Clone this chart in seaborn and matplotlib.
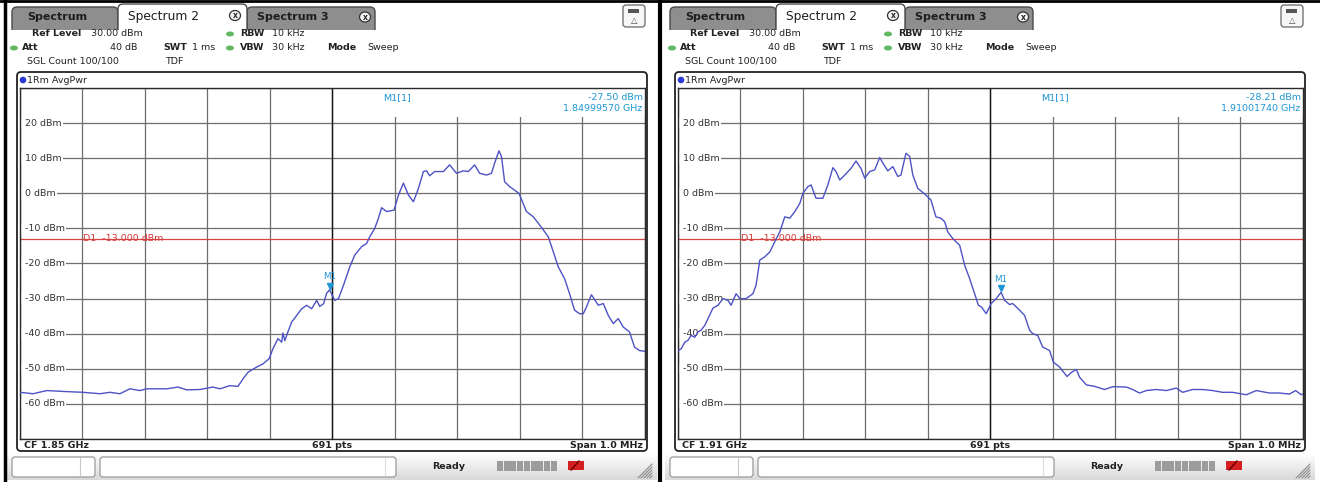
import matplotlib
matplotlib.use('Agg')
import numpy as np
import matplotlib.pyplot as plt
from matplotlib.colors import LinearSegmentedColormap
from matplotlib.patches import Rectangle, FancyBboxPatch, Circle, Ellipse
import seaborn as sns

# trace points: (offset from CF in kHz, level in dBm)
left_trace = [(-500, -56.7), (-479, -57.1), (-457, -56.2), (-425, -56.5), (-399, -56.7), (-372, -57.1),
              (-356, -56.7), (-340, -57.1), (-324, -55.7), (-308, -56.2), (-297, -55.7), (-265, -55.7),
              (-247, -55.2), (-233, -56.0), (-212, -55.9), (-191, -55.2), (-180, -55.7), (-164, -54.8),
              (-151, -55.0), (-143, -52.9), (-135, -51.0), (-121, -49.5), (-111, -48.6), (-101, -47.1),
              (-95, -44.3), (-87, -41.4), (-81, -42.4), (-79, -39.8), (-76, -42.0), (-71, -39.5),
              (-65, -36.7), (-57, -34.8), (-49, -32.9), (-41, -31.9), (-33, -32.9), (-25, -30.5),
              (-20, -32.2), (-14, -31.5), (-9, -28.5), (-4.3, -27.5), (4, -30.5), (10, -30.0),
              (18, -26.2), (28, -21.0), (36, -17.6), (47, -15.2), (55, -14.3), (60, -12.4), (68, -10.0),
              (74, -7.1), (79, -4.1), (87, -5.2), (99, -4.8), (106, -0.5), (114, 2.9), (122, -0.5),
              (130, -2.4), (138, 1.4), (146, 6.2), (151, 6.4), (156, 5.0), (164, 6.2), (178, 6.2),
              (188, 8.1), (199, 5.7), (210, 6.4), (218, 6.2), (228, 8.1), (236, 5.7), (247, 5.2),
              (255, 5.7), (260, 8.6), (267, 12.1), (271, 10.5), (276, 3.3), (284, 1.9), (299, 0.0),
              (311, -5.2), (322, -6.7), (332, -9.0), (346, -12.4), (354, -16.7), (362, -21.0),
              (372, -24.3), (380, -28.6), (388, -33.3), (396, -34.3), (402, -34.3), (407, -32.4),
              (415, -28.9), (426, -31.9), (434, -31.4), (442, -34.8), (450, -37.1), (458, -35.7),
              (466, -38.1), (476, -39.5), (484, -43.8), (492, -44.8), (500, -45.0)]

right_trace = [(-500, -44.8), (-495, -44.3), (-489, -42.4), (-484, -41.9), (-479, -40.5), (-473, -41.0),
               (-468, -39.5), (-463, -39.0), (-457, -37.6), (-452, -35.7), (-444, -32.7), (-436, -31.9),
               (-428, -30.0), (-420, -30.5), (-415, -31.9), (-407, -28.6), (-401, -30.0), (-391, -30.0),
               (-380, -28.6), (-375, -26.2), (-369, -19.0), (-361, -18.1), (-353, -16.7), (-345, -13.8),
               (-337, -11.0), (-329, -6.7), (-321, -7.1), (-313, -5.2), (-305, -2.9), (-300, 0.0),
               (-292, 1.9), (-287, 2.4), (-279, -1.4), (-268, -1.4), (-260, 2.4), (-252, 7.3),
               (-247, 6.2), (-241, 3.8), (-233, 5.2), (-223, 7.1), (-215, 9.2), (-207, 7.1),
               (-201, 4.3), (-193, 6.2), (-185, 6.7), (-177, 10.2), (-172, 8.6), (-164, 6.4),
               (-156, 7.6), (-148, 4.8), (-143, 5.2), (-135, 11.4), (-129, 10.5), (-124, 5.2),
               (-116, 1.4), (-103, -0.5), (-95, -1.9), (-87, -6.7), (-79, -7.1), (-73, -8.1),
               (-68, -11.0), (-60, -12.9), (-49, -14.8), (-41, -20.5), (-33, -24.3), (-25, -28.6),
               (-19, -31.9), (-14, -32.4), (-6.5, -34.3), (1.5, -31.4), (9.5, -30.0), (17.4, -28.2),
               (23, -30.5), (31, -31.7), (36, -31.4), (47, -33.3), (55, -34.8), (63, -39.0),
               (68, -40.0), (76, -40.5), (84, -43.8), (95, -44.8), (101, -48.1), (111, -49.5),
               (123, -52.2), (130, -51.0), (138, -50.2), (143, -52.4), (154, -54.6), (167, -55.0),
               (183, -55.9), (196, -55.1), (218, -55.2), (228, -55.9), (239, -56.9), (250, -56.2),
               (266, -55.9), (282, -56.2), (298, -55.5), (308, -56.7), (324, -55.9), (340, -55.9),
               (356, -56.2), (372, -56.7), (388, -56.7), (410, -57.4), (426, -56.2), (447, -56.9),
               (463, -56.9), (479, -57.2), (489, -56.2), (498, -57.4), (500, -57.2)]

cf_labels = ['CF 1.85 GHz', 'CF 1.91 GHz']
marker_khz = [-4.3, 17.4]
marker_dbm = [-27.50, -28.21]
marker_freq = ['1.84999570 GHz', '1.91001740 GHz']
level_ticks = [20, 10, 0, -10, -20, -30, -40, -50, -60]
d1_level = -13.0
tab_names = ['Spectrum', 'Spectrum 2', 'Spectrum 3']

sns.set_style('white')
plt.rcParams['font.family'] = ['DejaVu Sans']

W, H = 1320, 482
fig = plt.figure(figsize=(W / 100, H / 100), dpi=100)
bg = fig.add_axes([0, 0, 1, 1])
bg.set_xlim(0, W)
bg.set_ylim(H, 0)
bg.axis('off')

TRACE = '#4d52c4'
MK = '#1f96d4'
FS = 6.8
status_cmap = LinearSegmentedColormap.from_list('sb', ['#ffffff', '#d9d9d9'])


def rbox(x0, y0, x1, y1, fc, ec, lw=1.0, r=4, z=1):
    bg.add_patch(FancyBboxPatch((x0, y0), x1 - x0, y1 - y0,
                                boxstyle='round,pad=0,rounding_size=%s' % r,
                                fc=fc, ec=ec, lw=lw, zorder=z))


def draw_panel(ox, pts, cf, mk_x, mk_y, mk_f):
    X = lambda v: ox + v
    # tabs
    for x0, x1 in [(12, 118), (247, 375)]:
        rbox(X(x0), 7, X(x1), 36, '#8e8e8e', '#4a4a4a', 1.0, 5)
    rbox(X(118), 4, X(247), 36, 'white', '#4a4a4a', 1.0, 5, z=2)
    bg.add_patch(Rectangle((X(7), 29.5), 650, 40, fc='white', ec='none', zorder=3))
    bg.text(X(27), 17.5, tab_names[0], fontsize=8, weight='bold', color='#1e1e1e', va='center', zorder=4)
    bg.text(X(128), 16.5, tab_names[1], fontsize=8.8, color='#1e1e1e', va='center', zorder=4)
    bg.text(X(257), 17.5, tab_names[2], fontsize=8, weight='bold', color='#1e1e1e', va='center', zorder=4)
    for cx, cy in [(235, 15.5), (365, 17)]:
        bg.add_patch(Ellipse((X(cx), cy), 11, 10, fc='#f2f2f2', ec='#333', lw=0.9, zorder=4))
        bg.text(X(cx), cy, 'x', fontsize=5.5, weight='bold', ha='center', va='center', zorder=5)
    # top-right icon
    rbox(X(623), 5, X(645), 27, '#f7f7f7', '#666', 0.9, 3, z=4)
    bg.add_patch(Rectangle((X(628), 9), 11, 4, fc='#555', ec='none', zorder=5))
    bg.text(X(634), 20, '\u25b3', fontsize=6, ha='center', va='center', color='#444', zorder=5)

    # header settings
    def hdr(x, y, s, bold=False, ha='left'):
        bg.text(X(x), y, s, fontsize=FS, weight='bold' if bold else 'normal', color='#222',
                ha=ha, va='center', zorder=5)

    def dot(x, y):
        bg.add_patch(Ellipse((X(x), y), 8, 5, fc='#62b862', ec='none', zorder=5))
    hdr(32, 34, 'Ref Level', True)
    hdr(91, 34, '30.00 dBm')
    dot(230, 34)
    hdr(240, 34, 'RBW', True)
    hdr(272, 34, '10 kHz')
    dot(14, 48)
    hdr(22, 48, 'Att', True)
    hdr(137, 48, '40 dB', ha='right')
    hdr(163, 48, 'SWT', True)
    hdr(192, 48, '1 ms')
    dot(230, 48)
    hdr(240, 48, 'VBW', True)
    hdr(272, 48, '30 kHz')
    hdr(327, 48, 'Mode', True)
    hdr(367, 48, 'Sweep')
    hdr(27, 61, 'SGL Count 100/100')
    hdr(165, 61, 'TDF')

    # diagram frame
    rbox(X(17), 72, X(647), 451, 'none', '#222', 1.3, 4, z=6)
    bg.add_patch(Circle((X(23), 80), 3.3, fc='#2a3cd0', ec='none', zorder=5))
    hdr(27, 80.5, '1Rm AvgPwr')
    hdr(24, 445.5, cf, True)
    hdr(332, 445.5, '691 pts', True, ha='center')
    hdr(643, 445.5, 'Span 1.0 MHz', True, ha='right')

    # status bar
    grad = np.linspace(0, 1, 30).reshape(-1, 1)
    bg.imshow(grad, extent=(X(7), X(657), 480, 453), cmap=status_cmap, aspect='auto', zorder=1)
    rbox(X(12), 457, X(95), 477, 'white', '#9a9a9a', 0.9, 3, z=2)
    bg.plot([X(80), X(80)], [458, 476], color='#c8c8c8', lw=0.8, zorder=3)
    rbox(X(100), 457, X(396), 477, 'white', '#9a9a9a', 0.9, 3, z=2)
    bg.plot([X(385), X(385)], [458, 476], color='#dcdcdc', lw=0.8, zorder=3)
    hdr(432, 466.5, 'Ready', True)
    for i in range(9):
        bg.add_patch(Rectangle((X(497 + i * 6.7), 461), 6.0, 10, fc='#9c9c9c', ec='none', zorder=3))
    bg.add_patch(Rectangle((X(568), 461), 16, 9, fc='#d42020', ec='none', zorder=3))
    bg.plot([X(571), X(579)], [470, 461], color='#7a0000', lw=1.2, zorder=4)
    for k in range(5):
        bg.plot([X(638 + k * 3), X(652)], [478, 464 + k * 3], color='#8a8a8a', lw=0.8, zorder=3)

    # diagram
    ax = fig.add_axes([X(20) / W, 1 - 439 / H, 624.5 / W, (439 - 88) / H])
    ax.set_zorder(5)
    khz = [p[0] for p in pts]
    dbm = [p[1] for p in pts]
    sns.lineplot(x=khz, y=dbm, ax=ax, color=TRACE, lw=1.0, zorder=4)
    ax.set_xlim(-500, 500)
    ax.set_ylim(-70, 30)
    ax.set_xticks(np.arange(-500, 501, 100))
    ax.set_yticks(np.arange(-70, 31, 10))
    ax.tick_params(length=0, labelbottom=False, labelleft=False)
    ax.set_axisbelow(True)
    ax.grid(True, color='#6e6e6e', lw=0.9)
    for s in ax.spines.values():
        s.set_color('#2a2a2a')
        s.set_linewidth(1.0)
    # marker readout hides the top of the grid
    ax.add_patch(Rectangle((3, 21.7), 497, 8.3, fc='white', ec='none', zorder=1.5))
    ax.axvline(0, color='#151515', lw=1.0, zorder=1.6)
    ytr = ax.get_yaxis_transform()
    for lv in level_ticks:
        ax.add_patch(Rectangle((-500, lv - 1.5), 9, 3.0, fc='white', ec='none', zorder=1.9))
        ax.text(0.008, lv, '%d dBm' % lv, transform=ytr, fontsize=FS, color='#333', va='center',
                ha='left', zorder=2, bbox=dict(boxstyle='square,pad=0.12', fc='white', ec='none'))
    ax.axhline(d1_level, color='#d84343', lw=0.9, zorder=2.2)
    ax.text(-399, d1_level, 'D1  %.3f dBm' % d1_level, fontsize=FS, color='#d43a3a', va='center',
            ha='left', zorder=2.3)
    ax.plot([mk_x], [mk_y + 1.2], marker='v', ms=5, color=MK, ls='none', zorder=5)
    ax.text(mk_x, mk_y + 2.4, 'M1', fontsize=6.3, color=MK, ha='center', va='bottom', zorder=5)
    ax.text(0.581, 0.974, 'M1[1]', transform=ax.transAxes, fontsize=FS, color=MK, va='center', zorder=5)
    ax.text(0.997, 0.974, '%.2f dBm' % mk_y, transform=ax.transAxes, fontsize=FS, color=MK,
            ha='right', va='center', zorder=5)
    ax.text(0.997, 0.941, mk_f, transform=ax.transAxes, fontsize=FS, color=MK,
            ha='right', va='center', zorder=5)
    ax.set_xlabel('')
    ax.set_ylabel('')


draw_panel(0, left_trace, cf_labels[0], marker_khz[0], marker_dbm[0], marker_freq[0])
draw_panel(658, right_trace, cf_labels[1], marker_khz[1], marker_dbm[1], marker_freq[1])

# outer black borders
bg.plot([4.5, 4.5], [0, H], color='black', lw=2.5, zorder=10)
bg.plot([660, 660], [0, H], color='black', lw=3, zorder=10)
bg.plot([0, W], [0.8, 0.8], color='black', lw=2, zorder=10)

fig.savefig('out.png', dpi=100)
